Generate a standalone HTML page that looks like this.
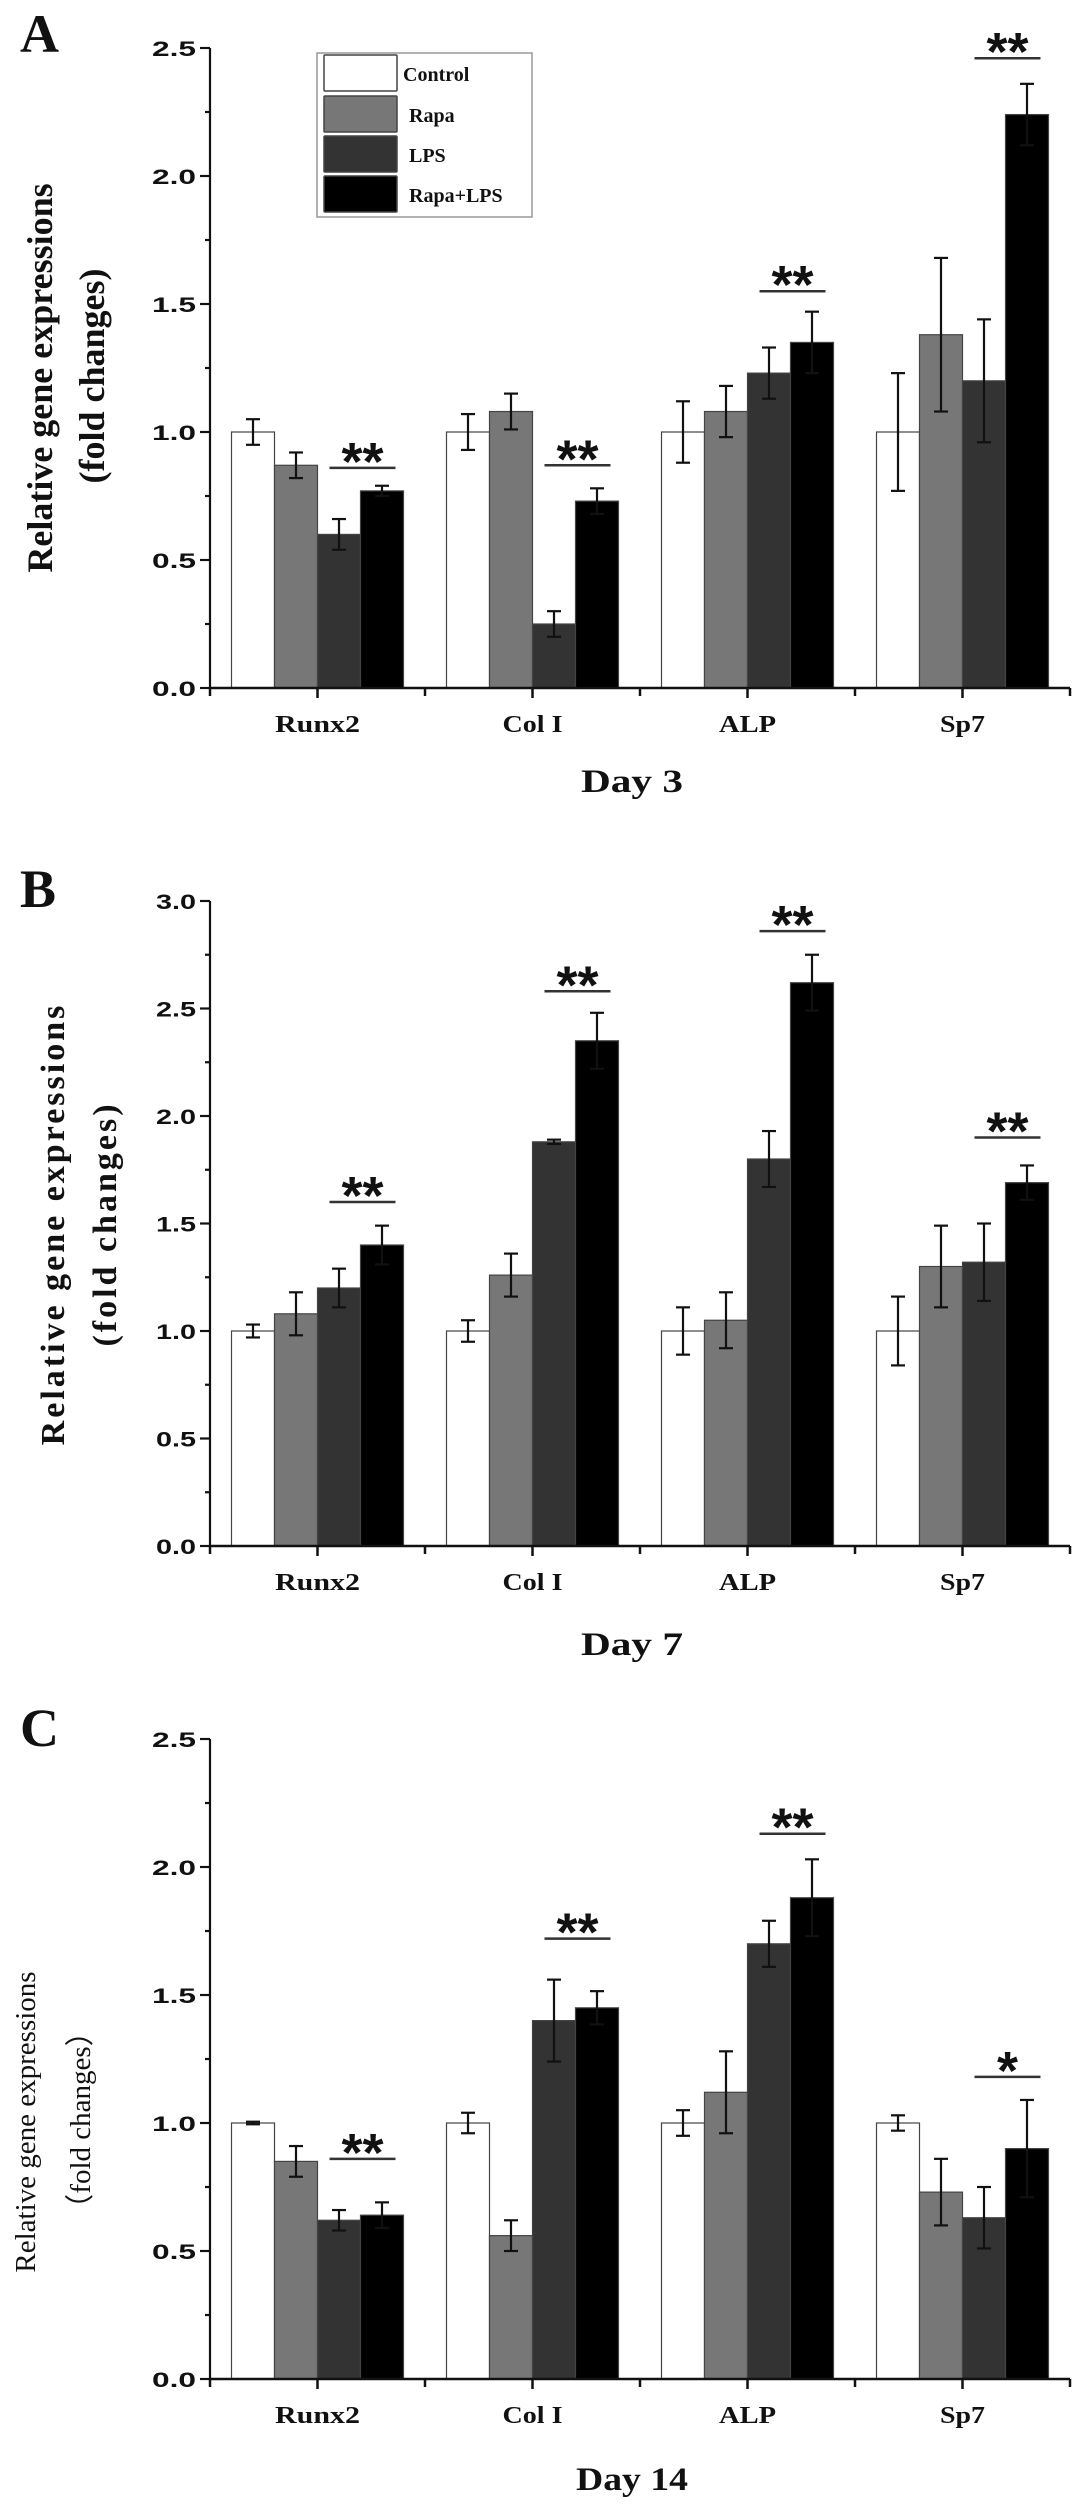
<!DOCTYPE html>
<html><head><meta charset="utf-8">
<style>
html,body{margin:0;padding:0;background:#fff;}
svg{display:block;}
.tick{font-family:"Liberation Sans",Arial,sans-serif;font-weight:bold;font-size:21px;fill:#111;}
.cat{font-family:"Liberation Serif",serif;font-weight:bold;font-size:24px;fill:#111;}
.day{font-family:"Liberation Serif",serif;font-weight:bold;font-size:33px;fill:#111;}
.ytitle{font-family:"Liberation Serif",serif;font-weight:bold;font-size:36px;fill:#111;}
.plabel{font-family:"Liberation Serif",serif;font-weight:bold;font-size:54px;fill:#111;}
.leg{font-family:"Liberation Serif",serif;font-weight:bold;font-size:20px;fill:#111;}
.star{font-family:"Liberation Sans",Arial,sans-serif;font-weight:bold;font-size:54px;fill:#111;}
</style></head>
<body>
<svg id="fig" width="1087" height="2512" viewBox="0 0 1087 2512" xmlns="http://www.w3.org/2000/svg"></svg>
<script>
const categories = ["Runx2","Col I","ALP","Sp7"];
const seriesNames = ["Control","Rapa","LPS","Rapa+LPS"];
const seriesColors = ["#ffffff","#777777","#333333","#000000"];

// Panel A (Day 3)
const aControl = [1.0, 1.0, 1.0, 1.0];
const aRapa = [0.87, 1.08, 1.08, 1.38];
const aLPS = [0.60, 0.25, 1.23, 1.20];
const aRapaLPS = [0.77, 0.73, 1.35, 2.24];
const aErrControl = [0.05, 0.07, 0.12, 0.23];
const aErrRapa = [0.05, 0.07, 0.10, 0.30];
const aErrLPS = [0.06, 0.05, 0.10, 0.24];
const aErrRapaLPS = [0.02, 0.05, 0.12, 0.12];
const aSigLevel = [0.86, 0.87, 1.55, 2.46];
const aSigMark = ["**","**","**","**"];
const aTicks = ["0.0","0.5","1.0","1.5","2.0","2.5"];

// Panel B (Day 7)
const bControl = [1.0, 1.0, 1.0, 1.0];
const bRapa = [1.08, 1.26, 1.05, 1.30];
const bLPS = [1.20, 1.88, 1.80, 1.32];
const bRapaLPS = [1.40, 2.35, 2.62, 1.69];
const bErrControl = [0.03, 0.05, 0.11, 0.16];
const bErrRapa = [0.10, 0.10, 0.13, 0.19];
const bErrLPS = [0.09, 0.01, 0.13, 0.18];
const bErrRapaLPS = [0.09, 0.13, 0.13, 0.08];
const bSigLevel = [1.60, 2.58, 2.86, 1.90];
const bSigMark = ["**","**","**","**"];
const bTicks = ["0.0","0.5","1.0","1.5","2.0","2.5","3.0"];

// Panel C (Day 14)
const cControl = [1.0, 1.0, 1.0, 1.0];
const cRapa = [0.85, 0.56, 1.12, 0.73];
const cLPS = [0.62, 1.40, 1.70, 0.63];
const cRapaLPS = [0.64, 1.45, 1.88, 0.90];
const cErrControl = [0.005, 0.04, 0.05, 0.03];
const cErrRapa = [0.06, 0.06, 0.16, 0.13];
const cErrLPS = [0.04, 0.16, 0.09, 0.12];
const cErrRapaLPS = [0.05, 0.065, 0.15, 0.19];
const cSigLevel = [0.86, 1.72, 2.13, 1.18];
const cSigMark = ["**","**","**","*"];
const cTicks = ["0.0","0.5","1.0","1.5","2.0","2.5"];

const NS = "http://www.w3.org/2000/svg";
const svg = document.getElementById("fig");
function mk(tag, attrs, parent, text){
  const e = document.createElementNS(NS, tag);
  for (const k in attrs) e.setAttribute(k, attrs[k]);
  if (text !== undefined) e.textContent = text;
  (parent || svg).appendChild(e);
  return e;
}

function drawPanel(p){
  const g = mk("g", {});
  
  
  const x0 = 210, x1 = 1070;
  const catW = (x1 - x0) / categories.length;
  const yMax = parseFloat(p.ticks[p.ticks.length-1]);
  const y = v => p.zeroY - (v / yMax) * (p.zeroY - p.topY);
  const xc = i => x0 + catW * (i + 0.5);
  const bw = catW * 0.2;
  const series = [p.control, p.rapa, p.lps, p.rl];
  const errs = [p.eControl, p.eRapa, p.eLPS, p.eRL];
  for (let s = 0; s < 4; s++){
    for (let i = 0; i < categories.length; i++){
      const bx = xc(i) - 2*bw + s*bw;
      const r = mk("rect", {x: bx, y: y(series[s][i]), width: bw, height: p.zeroY - y(series[s][i]),
        fill: seriesColors[s], stroke: "#444", "stroke-width": 1.2}, g);
      
      
    }
  }
  for (let s = 0; s < 4; s++){
    for (let i = 0; i < categories.length; i++){
      const cx = xc(i) - 2*bw + s*bw + bw/2;
      const v = series[s][i], e = errs[s][i];
      const eg = mk("g", {stroke: "#111", "stroke-width": 2.2}, g);
      
      
      mk("line", {x1: cx, x2: cx, y1: y(v-e), y2: y(v+e)}, eg);
      mk("line", {x1: cx-7, x2: cx+7, y1: y(v-e), y2: y(v-e)}, eg);
      mk("line", {x1: cx-7, x2: cx+7, y1: y(v+e), y2: y(v+e)}, eg);
    }
  }
  for (let i = 0; i < categories.length; i++){
    const lx1 = xc(i) + 12, lx2 = xc(i) + 2*bw - 8;
    const sy = y(p.sig[i]);
    const ln = mk("line", {x1: lx1, x2: lx2, y1: sy, y2: sy, stroke: "#333", "stroke-width": 2.5}, g);
    
    
    const st = mk("text", {x: (lx1+lx2)/2, y: sy + 12, "text-anchor": "middle", class: "star"}, g, p.sigMark[i]);
    
    
  }
  const ya = mk("g", {stroke: "#111", "stroke-width": 2.2}, g);
  
  
  mk("line", {x1: x0, x2: x0, y1: p.topY, y2: p.zeroY + 1}, ya);
  for (let t = 0; t < p.ticks.length; t++){
    const v = parseFloat(p.ticks[t]);
    mk("line", {x1: x0-10, x2: x0, y1: y(v), y2: y(v)}, ya);
    if (t < p.ticks.length - 1) mk("line", {x1: x0-5, x2: x0, y1: y(v+0.25), y2: y(v+0.25)}, ya);
    const tl = mk("text", {x: x0-14, y: y(v)+8, "text-anchor": "end", class: "tick", textLength: p.tickW, lengthAdjust: "spacingAndGlyphs", stroke: "none"}, g, p.ticks[t]);
    
    
  }
  const xa = mk("g", {stroke: "#111", "stroke-width": 2.5}, g);
  
  
  mk("line", {x1: x0-1, x2: x1, y1: p.zeroY, y2: p.zeroY}, xa);
  for (let i = 0; i <= categories.length; i++){
    mk("line", {x1: x0 + catW*i, x2: x0 + catW*i, y1: p.zeroY, y2: p.zeroY+8}, xa);
  }
  const catWidths = [85, 60, 57, 45];
  for (let i = 0; i < categories.length; i++){
    mk("line", {x1: xc(i), x2: xc(i), y1: p.zeroY, y2: p.zeroY+10}, xa);
    const cl = mk("text", {x: xc(i), y: p.zeroY + 44, "text-anchor": "middle", class: "cat", textLength: catWidths[i], lengthAdjust: "spacingAndGlyphs"}, g, categories[i]);
    
    
  }
  const dl = mk("text", {x: 632, y: p.dayY, "text-anchor": "middle", class: "day", textLength: p.dayW, lengthAdjust: "spacingAndGlyphs"}, g, p.day);
  
  
  const yt = mk("text", {transform: "translate(" + p.yTitleX1 + "," + p.yTitleY + ") rotate(-90)", "text-anchor": "middle", class: "ytitle", style: p.titleStyle || ""}, g, "Relative gene expressions");
  
  
  const yt2 = mk("text", {transform: "translate(" + p.yTitleX2 + "," + p.yTitleY2 + ") rotate(-90)", "text-anchor": "middle", class: "ytitle", style: p.titleStyle || ""}, g, p.title2);
  
  
  const pl = mk("text", {x: 20, y: p.labelY, class: "plabel"}, g, p.label);
  
  
}

drawPanel({name: "panel-a-day3", zeroY: 688, topY: 48, ticks: aTicks, tickW: 44,
  control: aControl, rapa: aRapa, lps: aLPS, rl: aRapaLPS,
  eControl: aErrControl, eRapa: aErrRapa, eLPS: aErrLPS, eRL: aErrRapaLPS,
  sig: aSigLevel, sigMark: aSigMark, day: "Day 3", dayW: 102, dayY: 792,
  yTitleX1: 52, yTitleY: 378, yTitleX2: 104, yTitleY2: 376, title2: "(fold changes)", label: "A", labelY: 52});

drawPanel({name: "panel-b-day7", zeroY: 1546, topY: 901, ticks: bTicks, tickW: 40,
  control: bControl, rapa: bRapa, lps: bLPS, rl: bRapaLPS,
  eControl: bErrControl, eRapa: bErrRapa, eLPS: bErrLPS, eRL: bErrRapaLPS,
  sig: bSigLevel, sigMark: bSigMark, day: "Day 7", dayW: 102, dayY: 1655,
  yTitleX1: 64, yTitleY: 1224, yTitleX2: 116, yTitleY2: 1224, title2: "(fold  changes)", label: "B", labelY: 907,
  titleStyle: "font-size:34px;letter-spacing:3px"});

drawPanel({name: "panel-c-day14", zeroY: 2379, topY: 1739, ticks: cTicks, tickW: 44,
  control: cControl, rapa: cRapa, lps: cLPS, rl: cRapaLPS,
  eControl: cErrControl, eRapa: cErrRapa, eLPS: cErrLPS, eRL: cErrRapaLPS,
  sig: cSigLevel, sigMark: cSigMark, day: "Day 14", dayW: 112, dayY: 2490,
  yTitleX1: 35, yTitleY: 2122, yTitleX2: 90, yTitleY2: 2120, title2: "（fold changes）", label: "C", labelY: 1746,
  titleStyle: "font-size:29px;font-weight:normal"});

const lg = mk("g", {});


mk("rect", {x: 317, y: 53, width: 215, height: 164, fill: "#fff", stroke: "#999", "stroke-width": 1.5}, lg);
const legRowY = [54, 95, 135, 175];
for (let s = 0; s < 4; s++){
  const ent = mk("g", {}, lg);
  
  
  mk("rect", {x: 324, y: legRowY[s] + 1, width: 73, height: 36, fill: seriesColors[s], stroke: "#444", "stroke-width": 1.5, rx: 1}, ent);
  mk("text", {x: s === 0 ? 403 : 409, y: legRowY[s] + 27, class: "leg"}, ent, seriesNames[s]);
}
</script>
</body></html>
